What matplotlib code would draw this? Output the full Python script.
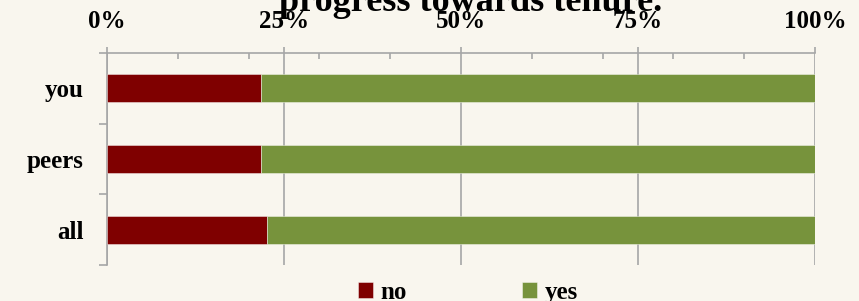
import matplotlib.pyplot as plt
from matplotlib.ticker import MultipleLocator, FixedLocator, PercentFormatter

categories = ['you', 'peers', 'all']
no_vals = [21.7, 21.8, 22.6]
yes_vals = [78.3, 78.2, 77.4]
title = 'progress towards tenure.'

bg = '#F9F6EE'
red = '#7F0000'
green = '#77933C'
gray = '#A6A6A6'

plt.rcParams['font.family'] = ['Liberation Serif', 'DejaVu Serif']
plt.rcParams['font.weight'] = 'bold'

fig = plt.figure(figsize=(8.59, 3.01), dpi=100, facecolor=bg)
ax = fig.add_axes([107 / 859, 1 - 265 / 301, 708 / 859, 212 / 301])
ax.set_facecolor(bg)

y = list(range(len(categories)))
ax.barh(y, no_vals, height=0.4, color=red, edgecolor=(1, 1, 1, 0.5), linewidth=0.6, label='no', zorder=3)
ax.barh(y, yes_vals, left=no_vals, height=0.4, color=green, edgecolor=(1, 1, 1, 0.5), linewidth=0.6, label='yes', zorder=3)

ax.set_xlim(0, 100)
ax.set_ylim(2.5, -0.5)

# x axis on top, major ticks outward, minor inward
ax.xaxis.tick_top()
ax.xaxis.set_major_locator(MultipleLocator(25))
ax.xaxis.set_minor_locator(MultipleLocator(10))
ax.xaxis.set_major_formatter(PercentFormatter(decimals=0))
ax.tick_params(axis='x', which='major', direction='out', length=4.5, width=1.2, color=gray,
               labelsize=18, pad=10)
ax.tick_params(axis='x', which='minor', direction='in', length=4.5, width=1.2, color=gray)
ax.grid(axis='x', which='major', color=gray, linewidth=1.2, zorder=0)

# y ticks at band edges, labels at centers
ax.yaxis.set_major_locator(FixedLocator([-0.5, 0.5, 1.5, 2.5]))
ax.yaxis.set_major_formatter(plt.NullFormatter())
ax.yaxis.set_minor_locator(FixedLocator(y))
ax.set_yticklabels(categories, minor=True)
ax.tick_params(axis='y', which='major', direction='out', length=6, width=1.2, color=gray)
ax.tick_params(axis='y', which='minor', length=0, labelsize=18, pad=17)

for s in ['bottom', 'right']:
    ax.spines[s].set_visible(False)
for s in ['top', 'left']:
    ax.spines[s].set_color(gray)
    ax.spines[s].set_linewidth(1.2)

fig.text(471 / 859, 1 - 11 / 301, title, ha='center', va='baseline', fontsize=26, fontweight='bold')

fig.legend(loc='upper center', bbox_to_anchor=(468 / 859, 1 - 281 / 301), ncol=2, frameon=False,
           fontsize=18, handlelength=0.6, handleheight=0.6, handletextpad=0.3, columnspacing=4.6,
           borderaxespad=0, borderpad=0)

fig.savefig('out.png', dpi=100, facecolor=bg)
